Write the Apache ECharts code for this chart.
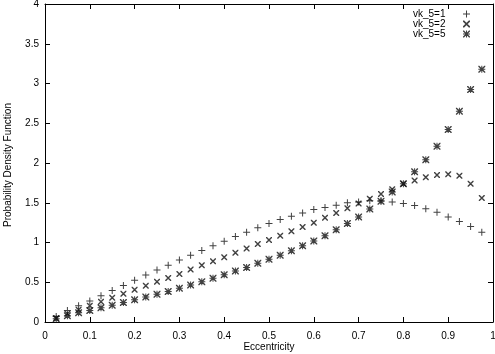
<!DOCTYPE html>
<html><head><meta charset="utf-8">
<script src="https://cdn.jsdelivr.net/npm/echarts@6/dist/echarts.min.js"></script>
<style>html,body{margin:0;padding:0;background:#fff}#c{width:495px;height:354px}</style>
</head><body><div id="c"></div>
<script>
var eccentricity = [0.025,0.05,0.075,0.1,0.125,0.15,0.175,0.2,0.225,0.25,0.275,0.3,0.325,0.35,0.375,0.4,0.425,0.45,0.475,0.5,0.525,0.55,0.575,0.6,0.625,0.65,0.675,0.7,0.725,0.75,0.775,0.8,0.825,0.85,0.875,0.9,0.925,0.95,0.975];
var vk1 = [0.07,0.145,0.205,0.265,0.33,0.395,0.46,0.525,0.59,0.655,0.715,0.78,0.84,0.90,0.96,1.015,1.075,1.13,1.185,1.24,1.29,1.33,1.37,1.415,1.44,1.47,1.50,1.51,1.525,1.525,1.51,1.49,1.465,1.425,1.38,1.32,1.265,1.20,1.13];
var vk2 = [0.05,0.105,0.155,0.205,0.255,0.305,0.355,0.405,0.455,0.505,0.555,0.605,0.66,0.715,0.765,0.815,0.87,0.925,0.98,1.03,1.085,1.14,1.195,1.25,1.31,1.37,1.43,1.49,1.55,1.61,1.67,1.74,1.78,1.82,1.85,1.86,1.84,1.74,1.56];
var vk5 = [0.04,0.08,0.115,0.145,0.18,0.21,0.245,0.28,0.315,0.35,0.385,0.425,0.465,0.505,0.55,0.595,0.64,0.685,0.74,0.79,0.84,0.895,0.96,1.02,1.085,1.16,1.24,1.32,1.42,1.52,1.635,1.74,1.89,2.04,2.21,2.42,2.65,2.925,3.18];
var seriesNames = ['vk_5=1','vk_5=2','vk_5=5'];
var xTitle = 'Eccentricity';
var yTitle = 'Probability Density Function';
var xTicks = {min:0, max:1, interval:0.1};
var yTicks = {min:0, max:4, interval:0.5};

var PLUS = 'path://M0,3 L7,3 L7,4 L0,4 Z M3,0 L4,0 L4,7 L3,7 Z';
var CROSS = 'path://M0,0 L1,0 L6,5 L6,6 L5,6 L0,1 Z M6,0 L6,1 L1,6 L0,6 L0,5 L5,0 Z';
var STAR = 'path://M0,3 L7,3 L7,4 L0,4 Z M3,0 L4,0 L4,7 L3,7 Z M0,0 L1,0 L7,6 L7,7 L6,7 L0,1 Z M7,0 L7,1 L1,7 L0,7 L0,6 L6,0 Z';

function pairs(ys){ return eccentricity.map(function(x,i){return [x, ys[i]];}); }
var FF = 'Liberation Sans, Arial, sans-serif';
function lbl(m){ return {show:true, margin:m, fontFamily:FF, fontSize:10, color:'#000'}; }
function aline(){ return {show:true, onZero:false, lineStyle:{color:'#000', width:1}}; }
function atick(){ return {show:true, inside:true, length:5, lineStyle:{color:'#000', width:1}}; }

var chart = echarts.init(document.getElementById('c'));
chart.setOption({
  animation:false,
  backgroundColor:'#fff',
  grid:{left:45, right:2, top:4, bottom:32, outerBoundsMode:'none'},
  legend:{
    orient:'vertical', right:25, top:9, padding:0, align:'right',
    itemWidth:32, itemHeight:7, itemGap:0,
    textStyle:{fontFamily:FF, fontSize:10, color:'#000', lineHeight:10},
    data:seriesNames
  },
  graphic:[
    {type:'text', x:269, y:347, style:{text:xTitle, align:'center', verticalAlign:'middle', fontFamily:FF, fontSize:10, fill:'#000'}},
    {type:'text', x:8, y:165, rotation:Math.PI/2, style:{text:yTitle, align:'center', verticalAlign:'middle', fontFamily:FF, fontSize:10, fill:'#000'}}
  ],
  xAxis:[
    {type:'value', min:xTicks.min, max:xTicks.max, interval:xTicks.interval, position:'bottom',
     axisLine:aline(), axisTick:atick(), splitLine:{show:false}, axisLabel:lbl(9)},
    {type:'value', min:xTicks.min, max:xTicks.max, interval:xTicks.interval, position:'top',
     axisLine:aline(), axisTick:atick(), splitLine:{show:false}, axisLabel:{show:false}}
  ],
  yAxis:[
    {type:'value', min:yTicks.min, max:yTicks.max, interval:yTicks.interval, position:'left',
     axisLine:aline(), axisTick:atick(), splitLine:{show:false}, axisLabel:lbl(6)},
    {type:'value', min:yTicks.min, max:yTicks.max, interval:yTicks.interval, position:'right',
     axisLine:aline(), axisTick:atick(), splitLine:{show:false}, axisLabel:{show:false}}
  ],
  series:[
    {name:seriesNames[0], type:'scatter', data:pairs(vk1), symbol:PLUS, symbolSize:7, itemStyle:{color:'#111'}},
    {name:seriesNames[1], type:'scatter', data:pairs(vk2), symbol:CROSS, symbolSize:6, itemStyle:{color:'#111'}},
    {name:seriesNames[2], type:'scatter', data:pairs(vk5), symbol:STAR, symbolSize:7, itemStyle:{color:'#111'}},
    {type:'scatter', xAxisIndex:1, yAxisIndex:1, data:[[0,0]], symbolSize:0, silent:true}
  ]
});
</script></body></html>
